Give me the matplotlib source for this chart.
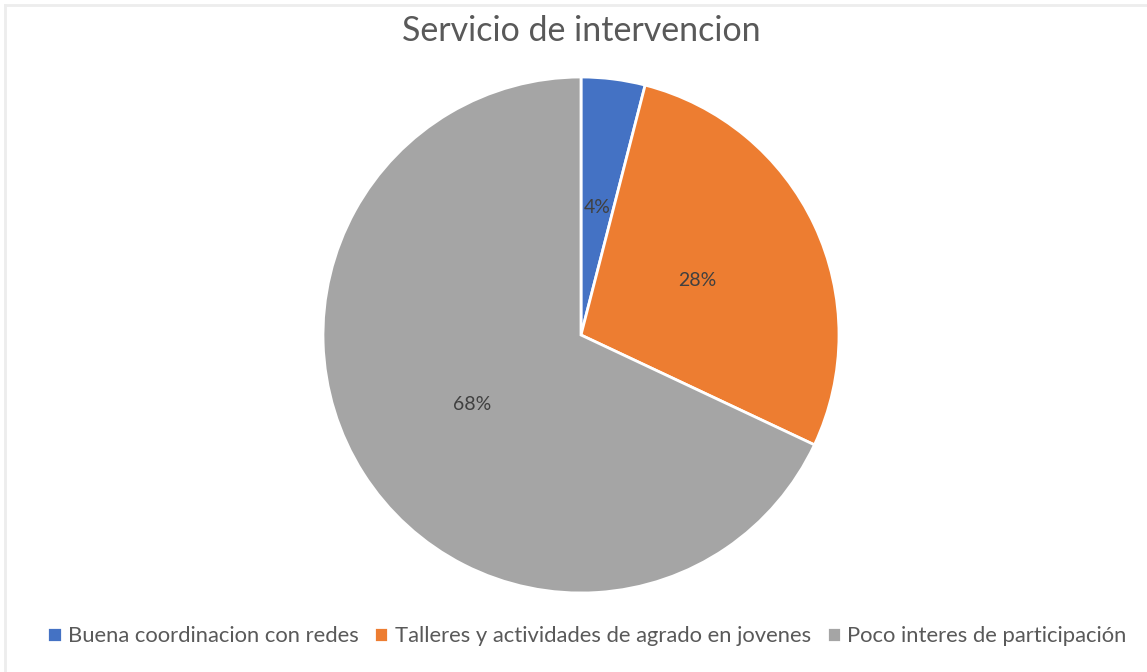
import matplotlib
matplotlib.use('Agg')
import matplotlib.pyplot as plt
from matplotlib.lines import Line2D

titulo = 'Servicio de intervencion'
categorias = ['Buena coordinacion con redes',
              'Talleres y actividades de agrado en jovenes',
              'Poco interes de participación']
valores = [4, 28, 68]
colores = ['#4472C4', '#ED7D31', '#A5A5A5']

plt.rcParams['font.family'] = ['Lato', 'DejaVu Sans']

W, H = 1147, 672
fig = plt.figure(figsize=(W / 100, H / 100), dpi=100)

# borde claro (solo arriba e izquierda se ven en el original)
x0, y0 = 5 / W, 1 - 5 / H
fig.lines.append(Line2D([x0, 1], [y0, y0], transform=fig.transFigure, color='#EDEDED', lw=2))
fig.lines.append(Line2D([x0, x0], [0, y0], transform=fig.transFigure, color='#EDEDED', lw=2))

# ejes del pie: centro (581, 335), radio 258 px
cx, cy, r = 581, 335, 258
ax = fig.add_axes([(cx - r) / W, (H - cy - r) / H, 2 * r / W, 2 * r / H])
wedges, textos, pcts = ax.pie(valores, colors=colores, startangle=90, counterclock=False,
                              autopct='%1.0f%%', pctdistance=0.5,
                              wedgeprops=dict(edgecolor='white', linewidth=2),
                              textprops=dict(color='#404040', fontsize=14))
ax.set_xlim(-1, 1)
ax.set_ylim(-1, 1)
ax.set_aspect('equal')
ax.axis('off')

fig.text(cx / W, 1 - 31 / H, titulo, ha='center', va='center', fontsize=24.5, color='#595959')

fig.legend(wedges, categorias, loc='center', bbox_to_anchor=(587 / W, 1 - 636 / H),
           ncol=3, frameon=False, fontsize=15.8, handlelength=0.65, handleheight=0.65,
           handletextpad=0.3, columnspacing=0.7, labelcolor='#595959')

fig.savefig('out.png', dpi=100)
